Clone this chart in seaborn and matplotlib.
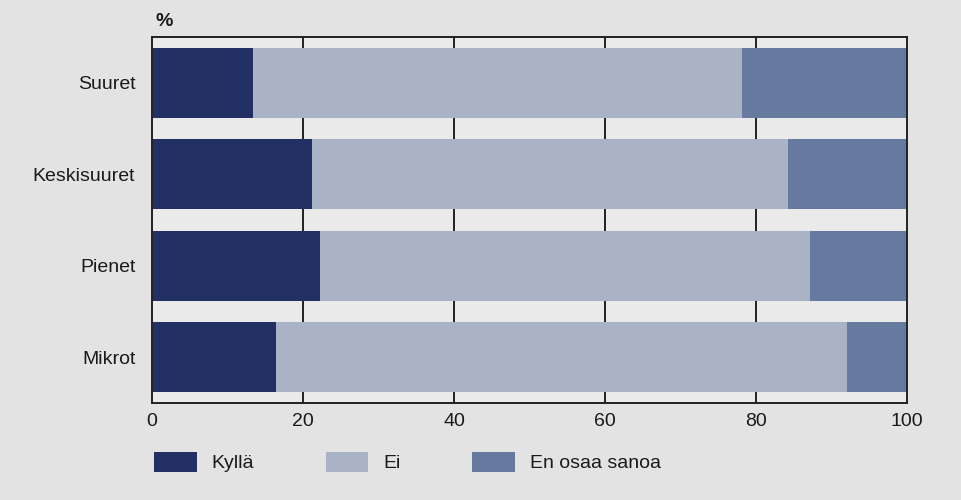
import matplotlib
matplotlib.use("Agg")
import matplotlib.pyplot as plt
import seaborn as sns
import pandas as pd
import numpy as np
from matplotlib.patches import Patch

categories = ["Suuret", "Keskisuuret", "Pienet", "Mikrot"]
kylla = [13.4, 21.2, 22.3, 16.4]
ei = [64.8, 63.0, 64.9, 75.6]
en_osaa = [21.8, 15.8, 12.8, 8.0]
series_names = ["Kyllä", "Ei", "En osaa sanoa"]
colors = ["#223063", "#aab2c5", "#66799e"]
xticks = [0, 20, 40, 60, 80, 100]

sns.set_theme(style="white")
plt.rcParams["font.family"] = ["Liberation Sans", "DejaVu Sans"]

df = pd.DataFrame({"cat": categories, "Kyllä": kylla, "Ei": ei, "En osaa sanoa": en_osaa})
cum = df[series_names].cumsum(axis=1)

fig = plt.figure(figsize=(9.62, 5.0), dpi=100, facecolor="#e3e3e3")
ax = fig.add_axes([152/962, 97/500, 755/962, 366/500])
ax.set_facecolor("#eaeaeb")

for name, col in reversed(list(zip(series_names, colors))):
    sns.barplot(x=cum[name], y=df["cat"], order=categories, color=col,
                width=0.76, ax=ax, orient="h", saturation=1, zorder=2, linewidth=0)

ax.set_xlim(0, 100)
ax.set_ylim(3.5, -0.5)
ax.set_xticks(xticks)
ax.set_xticklabels([str(t) for t in xticks])
for t in xticks[1:-1]:
    ax.axvline(t, color="#222222", lw=1.4, zorder=1)
ax.set_xlabel("")
ax.set_ylabel("")
ax.tick_params(axis="both", length=0, labelsize=14, colors="#1a1a1a")
ax.tick_params(axis="x", pad=7)
ax.tick_params(axis="y", pad=12)
for s in ax.spines.values():
    s.set_visible(True)
    s.set_color("#222222")
    s.set_linewidth(1.4)

fig.text(155/962, 1 - 22/500, "%", fontsize=14, fontweight="bold", color="#1a1a1a",
         ha="left", va="center")

handles = [Patch(facecolor=c, edgecolor="none", label=n) for n, c in zip(series_names, colors)]
leg = fig.legend(handles=handles, loc="center left", bbox_to_anchor=(146/962, 38/500),
                 ncol=3, frameon=False, fontsize=14, handlelength=2.2, handleheight=1.25,
                 handletextpad=0.75, columnspacing=3.7, borderaxespad=0)
for t in leg.get_texts():
    t.set_color("#1a1a1a")

fig.savefig("out.png", dpi=100, facecolor=fig.get_facecolor())
